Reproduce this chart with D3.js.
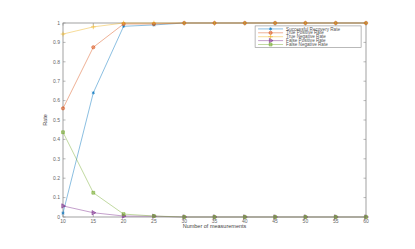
<!DOCTYPE html>
<html>
<head>
<meta charset="utf-8">
<script src="https://cdn.jsdelivr.net/npm/d3@7"></script>
<style>
  body { margin: 0; background: #fff; }
  text { font-family: "Liberation Sans", Arial, sans-serif; }
</style>
</head>
<body>
<svg></svg>
<script>
const measurements = [10, 15, 20, 25, 30, 35, 40, 45, 50, 55, 60]
const successRate = [0.02, 0.64, 0.983, 0.99, 1, 1, 1, 1, 1, 1, 1]
const truePositive = [0.56, 0.875, 0.995, 0.995, 1, 1, 1, 1, 1, 1, 1]
const trueNegative = [0.943, 0.98, 1, 1, 1, 1, 1, 1, 1, 1, 1]
const falsePositive = [0.057, 0.022, 0.005, 0.004, 0, 0, 0, 0, 0, 0, 0]
const falseNegative = [0.437, 0.125, 0.015, 0.005, 0, 0, 0, 0, 0, 0, 0]
const seriesNames = ['Successful Recovery Rate', 'True Positive Rate', 'True Negative Rate', 'False Positive Rate', 'False Negative Rate']
const yTicks = [0, 0.1, 0.2, 0.3, 0.4, 0.5, 0.6, 0.7, 0.8, 0.9, 1]

const series = [
    {name: seriesNames[0], values: successRate, color: '#0072BD', symbol: d3.symbolAsterisk, rot: 0},
    {name: seriesNames[1], values: truePositive, color: '#D95319', symbol: d3.symbolCircle, rot: 0},
    {name: seriesNames[2], values: trueNegative, color: '#EDB120', symbol: d3.symbolPlus, rot: 0},
    {name: seriesNames[3], values: falsePositive, color: '#7E2F8E', symbol: d3.symbolTriangle, rot: 90},
    {name: seriesNames[4], values: falseNegative, color: '#77AC30', symbol: d3.symbolSquare, rot: 0}
]

const W = 415, H = 249
const margin = {top: 23, right: 49, bottom: 32, left: 63}
const width = W - margin.left - margin.right
const height = H - margin.top - margin.bottom

const svg = d3.select('svg')
    .attr('width', W)
    .attr('height', H)

const g = svg.append('g')
    .attr('transform', `translate(${margin.left}, ${margin.top})`)

const x = d3.scaleLinear().domain([10, 60]).range([0, width])
const y = d3.scaleLinear().domain([0, 1]).range([height, 0])

const axisColor = '#8a8a8a'

// box
g.append('rect')
    .attr('width', width)
    .attr('height', height)
    .attr('fill', 'none')
    .attr('stroke', axisColor)
    .attr('stroke-width', 0.8)

// ticks on all four sides (inward)
const tickLen = 2.5
g.append('g').selectAll('line.xb')
    .data(measurements)
    .join('line')
    .attr('x1', d => x(d)).attr('x2', d => x(d))
    .attr('y1', height).attr('y2', height - tickLen)
    .attr('stroke', axisColor).attr('stroke-width', 0.6)
g.append('g').selectAll('line.xt')
    .data(measurements)
    .join('line')
    .attr('x1', d => x(d)).attr('x2', d => x(d))
    .attr('y1', 0).attr('y2', tickLen)
    .attr('stroke', axisColor).attr('stroke-width', 0.6)
g.append('g').selectAll('line.yl')
    .data(yTicks)
    .join('line')
    .attr('x1', 0).attr('x2', tickLen)
    .attr('y1', d => y(d)).attr('y2', d => y(d))
    .attr('stroke', axisColor).attr('stroke-width', 0.6)
g.append('g').selectAll('line.yr')
    .data(yTicks)
    .join('line')
    .attr('x1', width).attr('x2', width - tickLen)
    .attr('y1', d => y(d)).attr('y2', d => y(d))
    .attr('stroke', axisColor).attr('stroke-width', 0.6)

// tick labels
g.append('g').selectAll('text')
    .data(measurements)
    .join('text')
    .attr('x', d => x(d))
    .attr('y', height + 6)
    .attr('text-anchor', 'middle')
    .attr('font-size', '5px')
    .attr('fill', '#666')
    .text(d => d)
g.append('g').selectAll('text')
    .data(yTicks)
    .join('text')
    .attr('x', -3)
    .attr('y', d => y(d))
    .attr('dy', '0.35em')
    .attr('text-anchor', 'end')
    .attr('font-size', '5px')
    .attr('fill', '#666')
    .text(d => d)

// axis labels
g.append('text')
    .attr('x', width / 2)
    .attr('y', height + 10.5)
    .attr('text-anchor', 'middle')
    .attr('font-size', '5.5px')
    .attr('fill', '#444')
    .text('Number of measurements')
g.append('text')
    .attr('transform', `translate(${-16}, ${height / 2}) rotate(-90)`)
    .attr('text-anchor', 'middle')
    .attr('font-size', '5.5px')
    .attr('fill', '#444')
    .text('Rate')

// lines
const line = d3.line()
    .x((d, i) => x(measurements[i]))
    .y(d => y(d))

const lineGroup = g.append('g')
series.forEach(s => {
    lineGroup.append('path')
        .datum(s.values)
        .attr('d', line)
        .attr('fill', 'none')
        .attr('stroke', s.color)
        .attr('stroke-opacity', 0.65)
        .attr('stroke-width', 0.7)
})

series.forEach(s => {
    const sym = d3.symbol().type(s.symbol).size(8)
    lineGroup.append('g').selectAll('path')
        .data(s.values)
        .join('path')
        .attr('d', sym)
        .attr('transform', (d, i) => `translate(${x(measurements[i])}, ${y(d)}) rotate(${s.rot})`)
        .attr('fill', s.symbol === d3.symbolAsterisk || s.symbol === d3.symbolPlus ? 'none' : s.color)
        .attr('fill-opacity', 0.5)
        .attr('stroke', s.color)
        .attr('stroke-width', 0.6)
})

// legend
const legend = g.append('g')
    .attr('transform', `translate(${x(41.7)}, ${y(0.985)})`)
legend.append('rect')
    .attr('width', 106)
    .attr('height', 21.5)
    .attr('fill', '#fff')
    .attr('stroke', axisColor)
    .attr('stroke-width', 0.6)
series.forEach((s, i) => {
    const row = legend.append('g')
        .attr('transform', `translate(0, ${3 + i * 3.9})`)
    row.append('line')
        .attr('x1', 3).attr('x2', 28)
        .attr('stroke', s.color)
        .attr('stroke-opacity', 0.65)
        .attr('stroke-width', 0.7)
    row.append('path')
        .attr('d', d3.symbol().type(s.symbol).size(8))
        .attr('transform', `translate(15.5, 0) rotate(${s.rot})`)
        .attr('fill', s.symbol === d3.symbolAsterisk || s.symbol === d3.symbolPlus ? 'none' : s.color)
        .attr('fill-opacity', 0.5)
        .attr('stroke', s.color)
        .attr('stroke-width', 0.6)
    row.append('text')
        .attr('x', 31)
        .attr('dy', '0.35em')
        .attr('font-size', '4.6px')
        .attr('fill', '#555')
        .text(s.name)
})
</script>
</body>
</html>
